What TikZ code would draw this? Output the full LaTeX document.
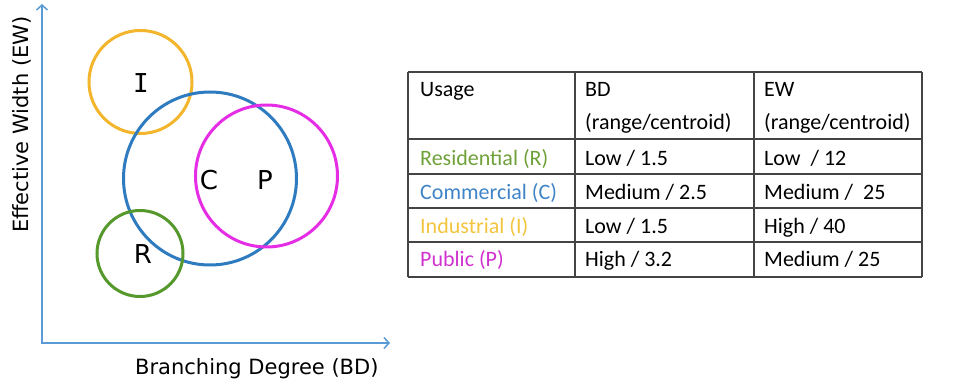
\documentclass[tikz,border=0pt]{standalone}
\usepackage{fontspec}
\setmainfont{Carlito}
\newfontfamily\dvs{DejaVu Sans}
\newfontfamily\dvsm{DejaVu Sans Mono}
\usetikzlibrary{arrows.meta}
\definecolor{axisblue}{HTML}{5B9BD5}
\definecolor{cI}{HTML}{F2B52C}
\definecolor{cC}{HTML}{2E7BBF}
\definecolor{cP}{HTML}{E52DE5}
\definecolor{cR}{HTML}{55982C}
\definecolor{tR}{HTML}{6FA13A}
\definecolor{tC}{HTML}{3F84C6}
\definecolor{tI}{HTML}{F3C43E}
\definecolor{tP}{HTML}{CF32CF}
\definecolor{grid}{HTML}{444444}
\tikzset{
  axis/.style={draw=axisblue,line width=1.5pt},
  ring/.style={circle,draw,line width=3pt,inner sep=0pt},
  letter/.style={font=\dvs\fontsize{26}{28}\selectfont,inner sep=0pt},
  axlabel/.style={font=\dvs\fontsize{21}{24}\selectfont,inner sep=0pt,anchor=base west},
  cell/.style={font=\fontsize{22}{24}\selectfont,inner sep=0pt,anchor=base west},
  gridline/.style={draw=grid,line width=1.6pt}
}
\begin{document}
\begin{tikzpicture}[x=1pt,y=-1pt]
\useasboundingbox (0,0) rectangle (967,387);
% axes
\coordinate (O) at (42,343);
\coordinate (ytip) at (42,4);
\coordinate (xtip) at (390,343);
\draw[axis,{Straight Barb[length=5pt,width=11pt]}-{Straight Barb[length=5pt,width=11pt]}] (ytip) -- (O) -- (xtip);
\node[axlabel] (xl) at (135,375) {Branching Degree (BD)};
\node[axlabel,rotate=90] (yl) at (28,233) {Effective Width (EW)};
% circles
\node[ring,draw=cI,minimum size=103pt] (cirI) at (140.5,82) {};
\node[ring,draw=cC,minimum size=173pt] (cirC) at (210,178.5) {};
\node[ring,draw=cP,minimum size=142pt] (cirP) at (266.5,176) {};
\node[ring,draw=cR,minimum size=86pt] (cirR) at (140,253.5) {};
\node[letter,font=\dvsm\fontsize{26}{28}\selectfont] (lI) at (141,83) {I};
\node[letter] (lC) at (209,180) {C};
\node[letter] (lP) at (265,180) {P};
\node[letter] (lR) at (143,254) {R};
% table grid
\foreach \y in {72,139,174,208,242,277}{
  \draw[gridline] (408,\y) -- (922,\y);
}
\foreach \x in {408,575,754,922}{
  \draw[gridline] (\x,72) -- (\x,277);
}
% header
\node[cell] (h1) at (420,97) {Usage};
\node[cell] (h2a) at (585,97) {BD};
\node[cell] (h2b) at (585,130) {(range/centroid)};
\node[cell] (h3a) at (764,97) {EW};
\node[cell] (h3b) at (764,130) {(range/centroid)};
% rows
\node[cell,text=tR] (r1) at (420,166) {Residential (R)};
\node[cell] (r1b) at (585,166) {Low / 1.5};
\node[cell] (r1c) at (764,166) {Low~ / 12};
\node[cell,text=tC] (r2) at (420,200) {Commercial (C)};
\node[cell] (r2b) at (585,200) {Medium / 2.5};
\node[cell] (r2c) at (764,200) {Medium /~ 25};
\node[cell,text=tI] (r3) at (420,234) {Industrial (I)};
\node[cell] (r3b) at (585,234) {Low / 1.5};
\node[cell] (r3c) at (764,234) {High / 40};
\node[cell,text=tP] (r4) at (420,267) {Public (P)};
\node[cell] (r4b) at (585,267) {High / 3.2};
\node[cell] (r4c) at (764,267) {Medium / 25};
\end{tikzpicture}
\end{document}
